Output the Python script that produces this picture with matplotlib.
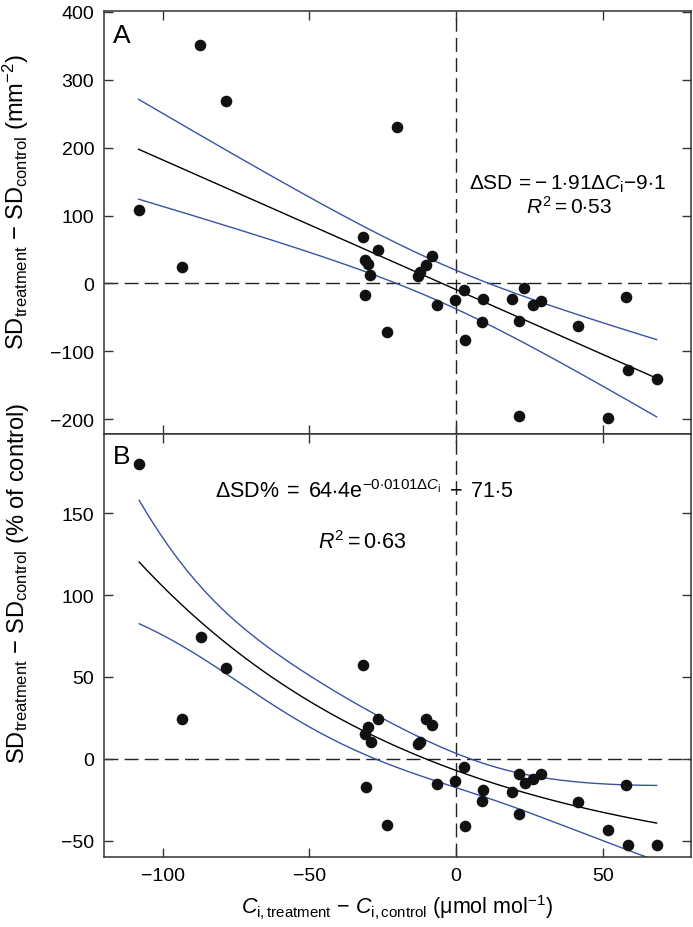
import numpy as np
import matplotlib
matplotlib.use("Agg")
import matplotlib.pyplot as plt

plt.rcParams['font.family'] = ['Liberation Sans', 'DejaVu Sans']
plt.rcParams['mathtext.fontset'] = 'custom'
plt.rcParams['mathtext.rm'] = 'Liberation Sans'
plt.rcParams['mathtext.it'] = 'Liberation Sans:italic'
plt.rcParams['mathtext.bf'] = 'Liberation Sans:bold'

# ---------------- data ----------------
# Panel A: absolute change in stomatal density (mm^-2)
ci_a = [-108.2, -93.5, -87.2, -78.5, -31.9, -31.2, -30.1, -29.3, -31.0, -26.7,
        -23.4, -20.0, -13.1, -12.4, -10.1, -8.1, -6.5, -0.4, 2.7, 3.0,
        8.7, 9.3, 19.2, 21.3, 21.3, 23.1, 26.2, 29.0, 41.6, 51.7,
        57.9, 58.6, 68.3]
sd_a = [107.6, 23.5, 351.5, 268.5, 67.8, 33.8, 28.4, 12.2, -17.6, 48.5,
        -70.8, 229.9, 10.7, 16.3, 27.4, 41.0, -31.9, -24.0, -9.8, -82.9,
        -57.4, -23.6, -22.6, -56.0, -194.7, -7.4, -31.4, -26.5, -62.8, -197.6,
        -20.6, -127.5, -141.2]

# Panel B: relative change (% of control)
ci_b = [-108.0, -93.5, -87.1, -78.5, -31.6, -26.6, -29.9, -31.0, -29.0, -30.7,
        -23.6, -10.1, -8.2, -13.1, -12.4, -6.5, -0.4, 2.7, 3.1, 9.3,
        8.7, 19.2, 21.4, 23.3, 26.1, 29.0, 21.3, 41.6, 57.9, 51.6,
        58.6, 68.3]
sd_b = [180.0, 24.6, 74.4, 55.7, 57.1, 24.4, 19.3, 14.9, 10.2, -17.1,
        -40.5, 24.6, 20.7, 9.2, 10.3, -15.2, -13.8, -4.7, -40.7, -18.9,
        -25.6, -20.3, -9.2, -15.0, -12.0, -9.2, -33.5, -26.5, -16.1, -43.7,
        -52.7, -52.3]

# fitted models printed on the figure
slope_a, icpt_a = -1.91, -9.1
amp_b, rate_b, off_b = 64.4, -0.0101, -71.5
t_a = 2.040   # t(0.975, n-2)
t_b = 2.045   # t(0.975, n-3)

xticks = [-100, -50, 0, 50]
yticks_a = [-200, -100, 0, 100, 200, 300, 400]
yticks_b = [-50, 0, 50, 100, 150]

BLUE = '#3a52a3'
FS = 14
LFS = 17

fig = plt.figure(figsize=(6.93, 9.28), dpi=100)
axA = fig.add_axes([0.150, 0.5313, 0.847, 0.4557])
axB = fig.add_axes([0.150, 0.0751, 0.847, 0.4562])

def style(ax):
    for s in ax.spines.values():
        s.set_linewidth(1.1)
        s.set_color('#333333')
    ax.tick_params(direction='in', length=6.5, width=1.0, color='#333333',
                   top=True, right=True, labelsize=FS, pad=7)
    ax.set_xlim(-120, 80)
    ax.set_xticks(xticks)
    ax.axhline(0, color='#222222', lw=1.0, ls=(0, (10, 4.5)), zorder=1)
    ax.axvline(0, color='#222222', lw=1.0, ls=(0, (10, 4.5)), zorder=1)

# ---- Panel A ----
xa = np.array(ci_a); ya = np.array(sd_a)
style(axA)
xs = np.linspace(xa.min(), xa.max(), 300)
fa = slope_a * xs + icpt_a
res = ya - (slope_a * xa + icpt_a)
n = len(xa)
s = np.sqrt(np.sum(res**2) / (n - 2))
sxx = np.sum((xa - xa.mean())**2)
hw = t_a * s * np.sqrt(1 / n + (xs - xa.mean())**2 / sxx)
axA.plot(xs, fa, color='black', lw=1.0, zorder=2)
axA.plot(xs, fa + hw, color=BLUE, lw=1.0, zorder=2)
axA.plot(xs, fa - hw, color=BLUE, lw=1.0, zorder=2)
axA.scatter(xa, ya, s=70, color='#111111', zorder=3, linewidths=0)
axA.set_ylim(-221.6, 401)
axA.set_yticks(yticks_a)
axA.set_yticklabels(['\u2212200', '\u2212100', '0', '100', '200', '300', '400'])
axA.tick_params(labelbottom=False)
axA.set_ylabel(r'SD$_{\rm treatment}$ $-$ SD$_{\rm control}$ (mm$^{-2}$)', fontsize=LFS)
axA.yaxis.set_label_coords(-0.125, 0.55)
axA.text(-117, 383, 'A', fontsize=19, va='top', ha='left')
axA.text(38, 148, r'$\Delta$SD$\,=\!-1{\cdot}91\Delta$$C_{\rm i}$$-9{\cdot}1$',
         fontsize=FS + 1, ha='center', va='center')
axA.text(38.5, 114, r'$R^{2}$$=0{\cdot}53$', fontsize=FS + 1, ha='center', va='center')

# ---- Panel B ----
xb = np.array(ci_b); yb = np.array(sd_b)
style(axB)
xs = np.linspace(xb.min(), xb.max(), 300)
e = np.exp(rate_b * xs)
fb = amp_b * e + off_b
eb = np.exp(rate_b * xb)
resb = yb - (amp_b * eb + off_b)
nb = len(xb)
s2 = np.sum(resb**2) / (nb - 3)
J = np.column_stack([eb, amp_b * xb * eb, np.ones_like(xb)])
cov = s2 * np.linalg.inv(J.T @ J)
Jg = np.column_stack([e, amp_b * xs * e, np.ones_like(xs)])
hwb = t_b * np.sqrt(np.einsum('ij,jk,ik->i', Jg, cov, Jg))
axB.plot(xs, fb, color='black', lw=1.0, zorder=2)
axB.plot(xs, fb + hwb, color=BLUE, lw=1.0, zorder=2)
axB.plot(xs, fb - hwb, color=BLUE, lw=1.0, zorder=2)
axB.scatter(xb, yb, s=70, color='#111111', zorder=3, linewidths=0, clip_on=False)
axB.set_ylim(-60.1, 198.4)
axB.set_yticks(yticks_b)
axB.set_yticklabels(['\u221250', '0', '50', '100', '150'])
axB.set_xticklabels(['\u2212100', '\u221250', '0', '50'])
axB.set_ylabel(r'SD$_{\rm treatment}$ $-$ SD$_{\rm control}$ (% of control)', fontsize=LFS)
axB.yaxis.set_label_coords(-0.125, 0.65)
axB.set_xlabel(r'$C_{\rm i,treatment}$ $-$ $C_{\rm i,control}$ (' + '\u03bc' + r'mol mol$^{-1}$)',
               fontsize=15.5, labelpad=6)
axB.text(-117, 192, 'B', fontsize=19, va='top', ha='left')
axB.text(-82, 164, r'$\Delta$SD%$\;=\;64{\cdot}4$e$^{-0{\cdot}0101\Delta C_{\rm i}}$$\;-\;71{\cdot}5$',
         fontsize=15.5, ha='left', va='center')
axB.text(-32, 133, r'$R^{2}$$=0{\cdot}63$', fontsize=15.5, ha='center', va='center')

fig.savefig('out.png', dpi=100)
